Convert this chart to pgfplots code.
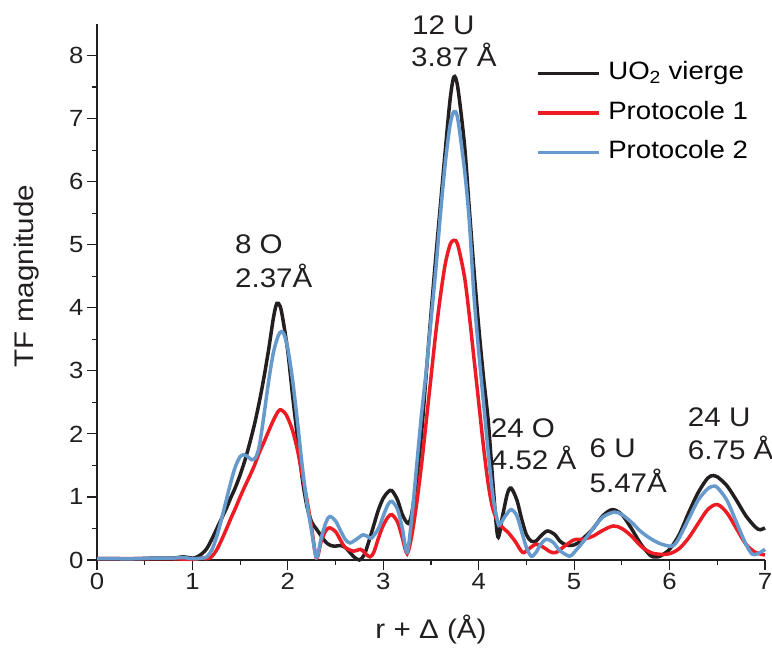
\documentclass[border=0pt]{standalone}
\usepackage{pgfplots}
\pgfplotsset{compat=1.18}
\usepackage{fontspec}
\setmainfont{Liberation Sans}[FakeStretch=1.1]
\definecolor{cblack}{HTML}{231F20}
\definecolor{cred}{HTML}{ED1C24}
\definecolor{cblue}{HTML}{6699CC}
\begin{document}
\begin{tikzpicture}
\useasboundingbox (0,0) rectangle (772bp,648bp);
\begin{axis}[
  at={(97bp,88bp)}, anchor=south west,
  scale only axis, width=668bp, height=536bp,
  xmin=0, xmax=7, ymin=0, ymax=8.5,
  axis lines*=left,
  axis line style={line width=1.2bp, color=cblack},
  tick style={line width=1.2bp, color=cblack},
  tick align=outside,
  major tick length=10bp, minor tick length=5bp,
  xtick={0,1,2,3,4,5,6,7}, ytick={0,1,2,3,4,5,6,7,8},
  minor x tick num=1, minor y tick num=1,
  /pgf/number format/assume math mode=true,
  tick label style={font=\fontsize{23.5}{28}\selectfont, color=cblack},
  label style={font=\fontsize{27}{32}\selectfont, color=cblack},
  xlabel={r + Δ (Å)},
  ylabel={TF magnitude},
  x label style={at={(axis description cs:0.5,-0.13)}, anchor=center},
  y label style={at={(axis description cs:-0.105,0.53)}, anchor=center, rotate=0},
  clip=false,
  legend style={at={(axis cs:4.565,7.94)}, anchor=north west, draw=none, fill=none,
    font=\fontsize{25.2}{30}\selectfont, row sep=15.5bp, column sep=8bp,
    nodes={inner sep=0pt, text height=18bp, text depth=6bp}},
  legend cell align=left,
  legend image code/.code={\draw[#1] plot coordinates {(0bp,0bp) (61bp,0bp)};},
]
\addplot[cblack, line width=3.5bp, smooth, tension=0.5] coordinates {
(0,0.02) (0.2,0.02) (0.4,0.02) (0.6,0.03) (0.8,0.03) (0.9,0.05) (1.0,0.03) (1.05,0.05) (1.1,0.1) (1.15,0.18) (1.2,0.32) (1.25,0.48) (1.3,0.64) (1.35,0.8) (1.4,0.98) (1.45,1.15) (1.5,1.35) (1.55,1.58) (1.6,1.85) (1.65,2.15) (1.7,2.5) (1.75,2.9) (1.8,3.35) (1.85,3.85) (1.885,4.07) (1.92,4.02) (1.95,3.8) (2.0,3.3) (2.05,2.6) (2.1,1.95) (2.15,1.3) (2.2,0.85) (2.25,0.6) (2.3,0.49) (2.35,0.38) (2.4,0.28) (2.45,0.23) (2.5,0.22) (2.55,0.23) (2.6,0.2) (2.65,0.12) (2.7,0.04) (2.75,0.0) (2.8,0.08) (2.85,0.3) (2.9,0.55) (2.95,0.8) (3.0,0.98) (3.05,1.08) (3.09,1.1) (3.15,0.95) (3.2,0.72) (3.26,0.58) (3.3,0.75) (3.35,1.3) (3.4,2.0) (3.45,2.95) (3.5,3.9) (3.55,4.8) (3.6,5.65) (3.65,6.5) (3.7,7.3) (3.74,7.66) (3.78,7.5) (3.85,6.6) (3.9,5.6) (3.95,4.6) (4.0,3.7) (4.05,2.9) (4.1,2.2) (4.15,1.2) (4.2,0.37) (4.25,0.7) (4.3,1.05) (4.34,1.14) (4.4,0.95) (4.45,0.65) (4.5,0.4) (4.55,0.3) (4.6,0.3) (4.65,0.38) (4.72,0.46) (4.8,0.4) (4.85,0.3) (4.9,0.25) (4.95,0.23) (5.0,0.24) (5.05,0.28) (5.1,0.35) (5.2,0.5) (5.3,0.7) (5.4,0.8) (5.5,0.72) (5.6,0.5) (5.7,0.25) (5.8,0.07) (5.85,0.05) (5.9,0.06) (6.0,0.17) (6.1,0.4) (6.2,0.75) (6.3,1.07) (6.4,1.3) (6.46,1.34) (6.5,1.32) (6.6,1.18) (6.7,0.95) (6.8,0.7) (6.9,0.52) (6.95,0.48) (7.0,0.51)
};
\addlegendentry{UO\textsubscript{2} vierge}
\addplot[cred, line width=3.5bp, smooth, tension=0.5] coordinates {
(0,0.02) (0.2,0.02) (0.4,0.02) (0.6,0.02) (0.8,0.02) (1.0,0.01) (1.1,0.03) (1.15,0.02) (1.2,0.05) (1.25,0.15) (1.3,0.3) (1.35,0.47) (1.4,0.65) (1.45,0.82) (1.5,1.0) (1.55,1.17) (1.6,1.33) (1.65,1.5) (1.7,1.7) (1.75,1.87) (1.8,2.05) (1.85,2.22) (1.9,2.36) (1.93,2.38) (1.97,2.33) (2.0,2.25) (2.05,2.05) (2.1,1.75) (2.15,1.35) (2.2,0.95) (2.25,0.5) (2.3,0.03) (2.35,0.3) (2.4,0.47) (2.44,0.51) (2.5,0.45) (2.55,0.32) (2.6,0.2) (2.69,0.14) (2.76,0.17) (2.8,0.12) (2.86,0.05) (2.9,0.12) (2.95,0.35) (3.0,0.55) (3.05,0.68) (3.09,0.72) (3.15,0.6) (3.2,0.35) (3.25,0.1) (3.3,0.4) (3.35,0.9) (3.4,1.5) (3.45,2.2) (3.5,2.9) (3.55,3.6) (3.6,4.2) (3.65,4.7) (3.7,5.0) (3.74,5.07) (3.78,5.0) (3.85,4.5) (3.9,3.9) (3.95,3.2) (4.0,2.5) (4.05,1.8) (4.1,1.2) (4.15,0.8) (4.22,0.56) (4.3,0.45) (4.38,0.3) (4.46,0.12) (4.52,0.17) (4.6,0.25) (4.68,0.2) (4.75,0.13) (4.81,0.12) (4.9,0.22) (5.0,0.32) (5.1,0.33) (5.2,0.38) (5.3,0.47) (5.41,0.54) (5.5,0.5) (5.6,0.38) (5.7,0.22) (5.8,0.12) (5.9,0.09) (6.0,0.1) (6.1,0.18) (6.2,0.35) (6.3,0.58) (6.4,0.8) (6.5,0.88) (6.6,0.75) (6.7,0.5) (6.8,0.25) (6.9,0.12) (7.0,0.08)
};
\addlegendentry{Protocole 1}
\addplot[cblue, line width=3.5bp, smooth, tension=0.5] coordinates {
(0,0.02) (0.2,0.02) (0.4,0.02) (0.6,0.03) (0.8,0.03) (0.9,0.04) (1.0,0.02) (1.1,0.03) (1.15,0.05) (1.2,0.15) (1.25,0.35) (1.3,0.62) (1.35,0.92) (1.4,1.22) (1.45,1.48) (1.5,1.64) (1.53,1.67) (1.57,1.65) (1.62,1.59) (1.66,1.62) (1.7,1.8) (1.75,2.3) (1.8,2.85) (1.85,3.3) (1.9,3.56) (1.93,3.62) (1.96,3.58) (2.0,3.35) (2.05,2.85) (2.1,2.2) (2.15,1.5) (2.2,0.9) (2.25,0.45) (2.3,0.04) (2.35,0.35) (2.4,0.6) (2.44,0.69) (2.5,0.62) (2.55,0.47) (2.6,0.33) (2.65,0.27) (2.72,0.33) (2.79,0.4) (2.85,0.36) (2.88,0.35) (2.95,0.5) (3.0,0.7) (3.05,0.88) (3.09,0.93) (3.15,0.8) (3.2,0.5) (3.25,0.12) (3.3,0.7) (3.35,1.5) (3.4,2.3) (3.45,3.0) (3.5,3.8) (3.55,4.6) (3.6,5.5) (3.65,6.3) (3.7,6.9) (3.74,7.11) (3.78,7.0) (3.85,6.2) (3.9,5.4) (3.95,4.2) (4.0,3.3) (4.05,2.5) (4.1,1.7) (4.15,1.0) (4.2,0.6) (4.22,0.56) (4.28,0.7) (4.34,0.8) (4.4,0.7) (4.45,0.45) (4.5,0.2) (4.55,0.06) (4.6,0.12) (4.65,0.25) (4.71,0.33) (4.78,0.28) (4.85,0.15) (4.95,0.06) (5.0,0.12) (5.1,0.3) (5.2,0.5) (5.3,0.68) (5.42,0.76) (5.5,0.72) (5.6,0.6) (5.7,0.45) (5.8,0.34) (5.9,0.26) (6.0,0.22) (6.05,0.24) (6.1,0.35) (6.2,0.65) (6.3,0.95) (6.4,1.13) (6.46,1.17) (6.5,1.15) (6.6,0.95) (6.7,0.6) (6.8,0.25) (6.87,0.09) (6.95,0.12) (7.0,0.17)
};
\addlegendentry{Protocole 2}
\begin{scope}[every node/.style={inner sep=0pt, anchor=base west, font=\fontsize{27}{32}\selectfont, text=cblack}]
\node at (axis cs:1.445,4.86) {8 O};
\node at (axis cs:1.445,4.32) {2.37Å};
\node at (axis cs:3.30,8.34) {12 U};
\node at (axis cs:3.29,7.83) {3.87 Å};
\node at (axis cs:4.125,1.95) {24 O};
\node at (axis cs:4.125,1.43) {4.52 Å};
\node at (axis cs:5.16,1.62) {6 U};
\node at (axis cs:5.16,1.07) {5.47Å};
\node at (axis cs:6.19,2.11) {24 U};
\node at (axis cs:6.19,1.59) {6.75 Å};
\end{scope}
\end{axis}
\end{tikzpicture}
\end{document}
